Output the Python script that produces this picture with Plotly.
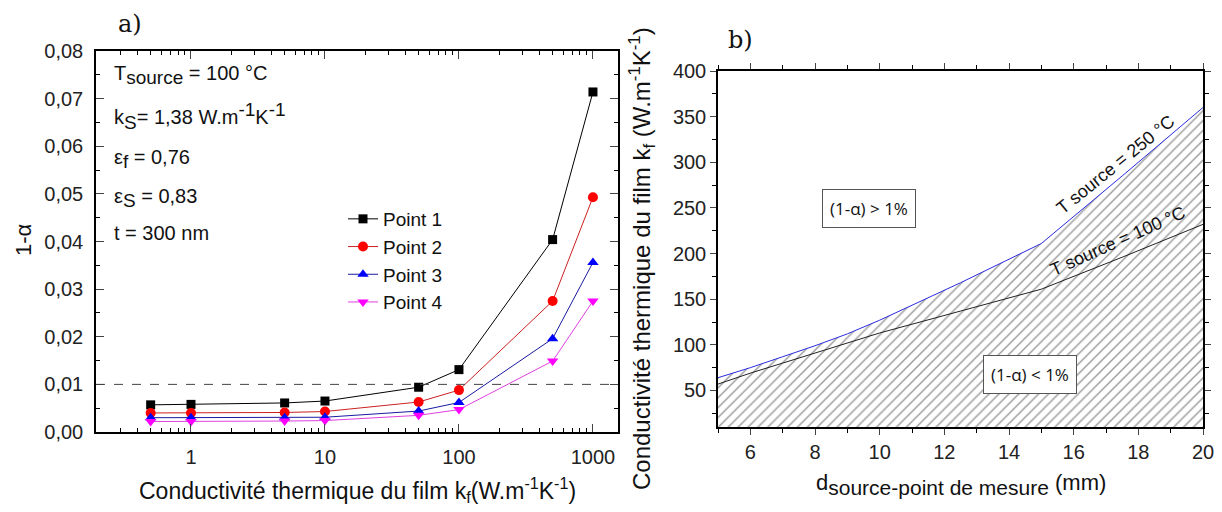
import plotly.graph_objects as go

# ---- Panel a) data ----
kf = [0.5, 1, 5, 10, 50, 100, 500, 1000]
point1 = [0.0057, 0.0058, 0.0061, 0.0065, 0.0094, 0.0131, 0.0404, 0.0714]
point2 = [0.0040, 0.0040, 0.0041, 0.0043, 0.0063, 0.0088, 0.0275, 0.0493]
point3 = [0.0030, 0.0030, 0.0030, 0.0031, 0.0044, 0.0062, 0.0196, 0.0356]
point4 = [0.0022, 0.0022, 0.0023, 0.0024, 0.0035, 0.0047, 0.0149, 0.0275]
series_names = ["Point 1", "Point 2", "Point 3", "Point 4"]
threshold = 0.01
ya_ticks = [0.00, 0.01, 0.02, 0.03, 0.04, 0.05, 0.06, 0.07, 0.08]
ya_ticklabels = ["0,00", "0,01", "0,02", "0,03", "0,04", "0,05", "0,06", "0,07", "0,08"]
xa_ticks = [1, 10, 100, 1000]
xa_minor = [0.3, 0.4, 0.5, 0.6, 0.7, 0.8, 0.9,
            2, 3, 4, 5, 6, 7, 8, 9,
            20, 30, 40, 50, 60, 70, 80, 90,
            200, 300, 400, 500, 600, 700, 800, 900]

# ---- Panel b) data ----
d_mm = [5, 6, 7, 8, 9, 10, 12.5, 15, 17.5, 20]
kf_250 = [64, 75, 87, 99, 112, 127, 168, 211, 285, 360]
kf_100 = [57, 69, 80, 91, 102, 113, 137, 161, 196, 232]
yb_ticks = [50, 100, 150, 200, 250, 300, 350, 400]
xb_ticks = [6, 8, 10, 12, 14, 16, 18, 20]

FONT = "Liberation Sans, Arial, sans-serif"
OFF = 8  # page body margin
W, H = 1222 - OFF, 512 - OFF


def px(x):
    return (x - OFF) / W


def py(y):
    return 1 - (y - OFF) / H


fig = go.Figure()

styles = [
    dict(line="#000000", marker="#000000", symbol="square", size=9),
    dict(line="#cc2020", marker="#ff0000", symbol="circle", size=10),
    dict(line="#1a1aa0", marker="#0000ff", symbol="triangle-up", size=10),
    dict(line="#e040e0", marker="#ff00ff", symbol="triangle-down", size=10),
]
for name, ys, st in zip(series_names, [point1, point2, point3, point4], styles):
    fig.add_trace(go.Scatter(
        x=kf, y=ys, name=name, mode="lines+markers",
        line=dict(color=st["line"], width=1),
        marker=dict(color=st["marker"], symbol=st["symbol"], size=st["size"]),
        xaxis="x", yaxis="y",
    ))

# panel b traces
fig.add_trace(go.Scatter(
    x=d_mm, y=kf_250, mode="lines", showlegend=False,
    line=dict(color="#2a2ae0", width=1),
    fill="tozeroy", fillcolor="rgba(0,0,0,0)",
    fillpattern=dict(shape="/", fgcolor="#333333", bgcolor="white", size=7, solidity=0.2),
    xaxis="x2", yaxis="y2",
))
fig.add_trace(go.Scatter(
    x=d_mm, y=kf_100, mode="lines", showlegend=False,
    line=dict(color="#222222", width=1),
    xaxis="x2", yaxis="y2",
))

axis_common = dict(showline=True, linecolor="black", linewidth=1.5, showgrid=False,
                   zeroline=False, automargin=False,
                   tickfont=dict(family=FONT, size=20, color="#222"))

fig.update_layout(
    width=W, height=H,
    margin=dict(l=0, r=0, t=0, b=0, autoexpand=False),
    paper_bgcolor="white", plot_bgcolor="white",
    showlegend=True,
    legend=dict(x=px(343), y=py(200), xanchor="left", yanchor="top",
                bgcolor="rgba(0,0,0,0)", font=dict(family=FONT, size=19, color="#111"),
                tracegroupgap=0, itemwidth=30),
    xaxis=dict(**axis_common, type="log", domain=[px(96), px(618)],
               range=[-0.709, 3.187], tickvals=xa_ticks, ticktext=[str(v) for v in xa_ticks],
               ticks="inside", ticklen=8, mirror="allticks", anchor="y", ticklabelstandoff=6,
               minor=dict(ticks="inside", ticklen=4, tickvals=xa_minor, tickcolor="black")),
    yaxis=dict(**axis_common, domain=[py(432), py(51)], range=[0, 0.08],
               tickvals=ya_ticks, ticktext=ya_ticklabels, ticklabelstandoff=7,
               ticks="inside", ticklen=8, mirror="allticks", anchor="x",
               minor=dict(ticks="inside", ticklen=4, dtick=0.005, tickcolor="black")),
    xaxis2=dict(**axis_common, domain=[px(718), px(1203)], range=[5, 20],
                tickvals=xb_ticks, ticks="outside", ticklen=6, mirror="allticks", anchor="y2",
                minor=dict(ticks="outside", ticklen=4, dtick=1, tickcolor="black")),
    yaxis2=dict(**axis_common, domain=[py(427), py(71)], range=[10, 400],
                tickvals=yb_ticks, ticks="outside", ticklen=6, mirror="allticks", anchor="x2",
                minor=dict(ticks="outside", ticklen=4, dtick=25, tick0=0, tickcolor="black")),
)

# dashed threshold line
fig.add_shape(type="line", xref="x domain", yref="y", x0=0, x1=1, y0=threshold, y1=threshold,
              line=dict(color="#444", width=1, dash="dash"))

ann = []
SUBS = "<span style='font-size:19px'>"
# panel a parameters text (pixel rows from the reference)
params = [
    (f"T<sub>{SUBS}source</span></sub> = 100 °C", 75),
    (f"k<sub>{SUBS}S</span></sub>= 1,38 W.m<sup>{SUBS}-1</span></sup>K<sup>{SUBS}-1</span></sup>", 116),
    (f"ε<sub>{SUBS}f</span></sub> = 0,76", 159),
    (f"ε<sub>{SUBS}S</span></sub> = 0,83", 198),
    ("t = 300 nm", 233),
]
for txt, yy in params:
    ann.append(dict(text=txt, xref="paper", yref="paper", x=px(112), y=py(yy),
                    xanchor="left", yanchor="middle", showarrow=False,
                    font=dict(family=FONT, size=20, color="#111")))
# panel labels
ann.append(dict(text="a)", xref="paper", yref="paper", x=px(116), y=py(24), xanchor="left",
                yanchor="middle", showarrow=False, font=dict(family="DejaVu Serif", size=24, color="#111")))
ann.append(dict(text="b)", xref="paper", yref="paper", x=px(726), y=py(40), xanchor="left",
                yanchor="middle", showarrow=False, font=dict(family="DejaVu Serif", size=24, color="#111")))
# axis titles panel a
ann.append(dict(text="Conductivité thermique du film k<sub>f</sub>(W.m<sup>-1</sup>K<sup>-1</sup>)",
                xref="paper", yref="paper", x=px(357), y=py(490), xanchor="center", yanchor="middle",
                showarrow=False, font=dict(family=FONT, size=23, color="#111")))
ann.append(dict(text="1-α", xref="paper", yref="paper", x=px(24), y=py(240), textangle=-90,
                xanchor="center", yanchor="middle", showarrow=False,
                font=dict(family=FONT, size=22, color="#111")))
# axis titles panel b
ann.append(dict(text="Conductivité thermique du film k<sub>f</sub> (W.m<sup>-1</sup>K<sup>-1</sup>)",
                xref="paper", yref="paper", x=px(642), y=py(258), textangle=-90,
                xanchor="center", yanchor="middle", showarrow=False,
                font=dict(family=FONT, size=24, color="#111")))
ann.append(dict(text="d<sub><span style='font-size:21px'>source-point de mesure</span></sub> (mm)",
                xref="paper", yref="paper", x=px(961), y=py(484), xanchor="center", yanchor="middle",
                showarrow=False, font=dict(family=FONT, size=22, color="#111")))
# curve labels panel b
ann.append(dict(text="T source = 250 °C", xref="x2", yref="y2", x=17.28, y=297, textangle=-39,
                showarrow=False, font=dict(family=FONT, size=18, color="#111")))
ann.append(dict(text="T source = 100 °C", xref="x2", yref="y2", x=17.37, y=214, textangle=-24,
                showarrow=False, font=dict(family=FONT, size=18, color="#111")))
# region boxes
ann.append(dict(text="(1-α) > 1%", xref="x2", yref="y2", x=9.67, y=249, showarrow=False,
                bordercolor="#555", borderwidth=1, bgcolor="white", borderpad=7,
                font=dict(family="Open Sans", size=17, color="#111")))
ann.append(dict(text="(1-α) < 1%", xref="x2", yref="y2", x=14.65, y=68, showarrow=False,
                bordercolor="#555", borderwidth=1, bgcolor="white", borderpad=7,
                font=dict(family="Open Sans", size=17, color="#111")))
fig.update_layout(annotations=ann)

fig.write_html("out.html")
